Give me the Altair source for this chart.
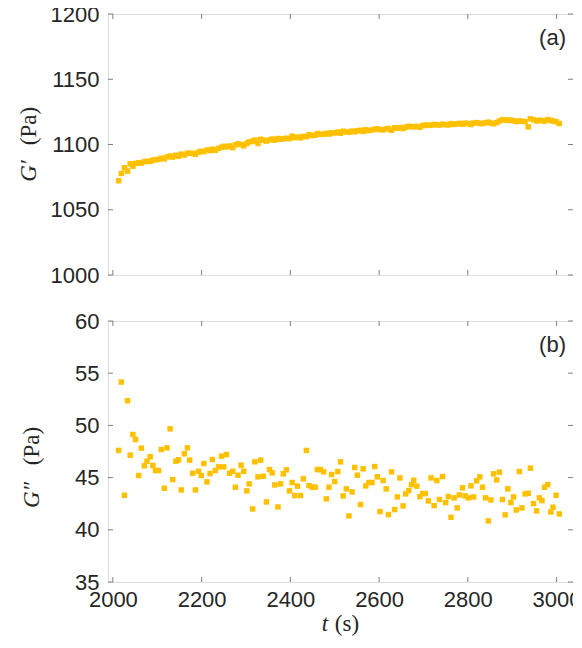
import altair as alt
import pandas as pd

t = [2013, 2019, 2026, 2033, 2039, 2045, 2051, 2058, 2064, 2071,
     2077, 2084, 2090, 2096, 2103, 2109, 2116, 2122, 2129, 2135,
     2142, 2148, 2154, 2161, 2168, 2173, 2180, 2186, 2193, 2199,
     2205, 2212, 2219, 2224, 2231, 2238, 2245, 2250, 2256, 2263,
     2270, 2276, 2282, 2289, 2295, 2302, 2307, 2315, 2320, 2327,
     2333, 2339, 2346, 2353, 2359, 2365, 2372, 2378, 2384, 2391,
     2398, 2404, 2410, 2416, 2423, 2429, 2436, 2442, 2449, 2456,
     2461, 2468, 2475, 2481, 2487, 2493, 2500, 2507, 2513, 2519,
     2526, 2532, 2539, 2545, 2551, 2558, 2564, 2570, 2577, 2584,
     2590, 2596, 2602, 2609, 2616, 2621, 2628, 2635, 2641, 2647,
     2654, 2660, 2667, 2673, 2678, 2685, 2692, 2698, 2704, 2711,
     2717, 2724, 2730, 2736, 2743, 2750, 2756, 2762, 2769, 2776,
     2781, 2788, 2794, 2801, 2807, 2813, 2820, 2827, 2833, 2840,
     2846, 2852, 2858, 2865, 2871, 2878, 2884, 2890, 2897, 2903,
     2909, 2916, 2922, 2929, 2936, 2941, 2948, 2955, 2961, 2967,
     2973, 2980, 2987, 2992, 2999, 3006]

g_storage = [1072.2, 1077.8, 1082.2, 1079.6, 1085.2, 1083.4, 1085.5, 1086.0, 1085.8, 1086.8,
             1087.2, 1087.0, 1088.0, 1088.3, 1088.6, 1089.5, 1089.0, 1090.5, 1091.2, 1090.3,
             1091.8, 1091.0, 1092.6, 1091.9, 1093.4, 1093.2, 1093.3, 1092.5, 1094.2, 1094.8,
             1094.5, 1095.8, 1095.3, 1096.4, 1095.6, 1097.0, 1097.9, 1098.6, 1098.2, 1098.9,
             1097.6, 1099.7, 1100.5, 1100.0, 1099.0, 1100.8, 1102.0, 1102.5, 1103.4, 1100.8,
             1104.0, 1103.3, 1102.6, 1103.5, 1104.2, 1103.3, 1104.6, 1104.0, 1104.3, 1104.8,
             1104.5, 1106.4, 1105.3, 1105.7, 1105.1, 1106.2, 1106.0, 1107.6, 1106.8, 1107.2,
             1108.4, 1107.8, 1107.9, 1108.6, 1108.0, 1109.0, 1108.8, 1109.6, 1108.6, 1110.2,
             1109.6, 1109.4, 1110.3, 1109.7, 1110.5, 1110.9, 1110.0, 1111.3, 1110.6, 1111.1,
             1111.6, 1112.0, 1111.4, 1111.2, 1111.9, 1112.3, 1110.9, 1112.8, 1112.5, 1113.0,
             1112.2, 1113.3, 1114.0, 1113.6, 1113.5, 1113.9, 1113.2, 1114.4, 1115.0, 1114.6,
             1114.8, 1115.4, 1115.1, 1114.9, 1115.6, 1115.2, 1115.0, 1116.0, 1115.4, 1115.8,
             1116.2, 1115.5, 1116.4, 1116.0, 1115.3, 1116.5, 1116.8, 1116.2, 1116.0, 1116.6,
             1117.1, 1116.4, 1115.9, 1116.8, 1118.0, 1119.1, 1118.8, 1118.4, 1118.7, 1118.2,
             1117.6, 1118.0, 1117.8, 1117.5, 1113.5, 1119.7, 1118.9, 1118.0, 1118.6, 1118.3,
             1117.9, 1119.1, 1118.5, 1118.0, 1117.4, 1116.1]

g_loss = [47.6, 54.15, 43.3, 52.36, 47.15, 49.13, 48.65, 45.2, 47.82, 46.13,
          46.57, 46.99, 46.16, 45.68, 45.68, 47.69, 43.98, 47.85, 49.67, 44.81,
          46.57, 46.7, 43.82, 47.28, 47.85, 46.67, 45.42, 43.82, 45.61, 45.2,
          46.35, 44.59, 45.39, 46.73, 45.68, 46.03, 47.05, 46.03, 47.21, 45.42,
          45.61, 44.08, 45.23, 46.19, 45.61, 43.73, 44.4, 42.0, 46.51, 45.07,
          46.67, 45.13, 42.67, 45.77, 45.45, 44.3, 42.19, 44.4, 45.36, 45.74,
          43.73, 44.53, 43.28, 44.18, 43.28, 44.88, 47.6, 44.24, 44.08, 44.08,
          45.77, 45.77, 45.55, 42.96, 44.08, 45.3, 44.62, 45.58, 46.51, 43.25,
          43.92, 41.33, 43.63, 45.97, 45.23, 42.42, 45.84, 44.21, 44.53, 44.53,
          46.06, 45.07, 41.75, 44.72, 43.92, 41.46, 45.55, 41.94, 43.15, 44.97,
          42.29, 43.44, 43.76, 44.33, 44.75, 44.18, 43.18, 43.47, 43.47, 42.77,
          44.97, 42.32, 44.72, 42.9, 45.1, 42.61, 43.18, 41.2, 43.06, 42.1,
          43.34, 44.02, 43.25, 43.06, 44.21, 43.15, 44.69, 45.07, 44.08, 43.06,
          40.85, 42.86, 45.36, 44.78, 45.52, 42.9, 41.43, 43.92, 42.61, 43.15,
          41.9, 45.58, 42.1, 43.44, 43.5, 45.9, 42.51, 41.81, 43.06, 42.8,
          44.08, 44.33, 41.71, 42.16, 43.31, 41.52]

x_ticks = [2000, 2200, 2400, 2600, 2800, 3000]
y1_ticks = [1000, 1050, 1100, 1150, 1200]
y2_ticks = [35, 40, 45, 50, 55, 60]

W, H = 465, 261
TL = 5
FRAME = "#7f7f7f"
PT = "#FFC000"
TXT = "#262626"
SANS = "Liberation Sans"
SERIF = "Liberation Serif"

xscale = alt.Scale(domain=[1989, 3037], nice=False, zero=False)
one = pd.DataFrame({"a": [0]})


def label(text, x, y, font=SANS, size=22, style="normal", angle=0, align="center", baseline="middle"):
    return alt.Chart(one).mark_text(
        text=text, font=font, fontSize=size, fontStyle=style, angle=angle,
        align=align, baseline=baseline, color=TXT,
    ).encode(x=alt.value(x), y=alt.value(y))


def panel(yvals, yticks, ydomain, tag, gname, gy, pay, tx, show_x):
    df = pd.DataFrame({"t": t, "g": yvals})
    ys = alt.Scale(domain=ydomain, nice=False, zero=False)
    xaxis = alt.Axis(values=x_ticks, ticks=False, domain=False, grid=False, title=None,
                     labels=show_x, labelFont=SANS, labelFontSize=22, labelColor=TXT,
                     labelPadding=7, format="d")
    yaxis = alt.Axis(values=yticks, ticks=False, domain=False, grid=False, title=None,
                     labelFont=SANS, labelFontSize=22, labelColor=TXT, labelPadding=9,
                     format="d")
    X = lambda f: alt.X(f, scale=xscale, axis=xaxis, title=None)
    Y = lambda f: alt.Y(f, scale=ys, axis=yaxis, title=None)
    pts = alt.Chart(df).mark_square(size=30, color=PT, opacity=1).encode(
        x=X("t:Q"), y=Y("g:Q"))
    xt = pd.DataFrame({"v": x_ticks})
    yt = pd.DataFrame({"v": yticks})
    xb = alt.Chart(xt).mark_rule(color=FRAME).encode(
        x=X("v:Q"), y=alt.value(H), y2=alt.value(H - TL))
    xtop = alt.Chart(xt).mark_rule(color=FRAME).encode(
        x=X("v:Q"), y=alt.value(0), y2=alt.value(TL))
    yl = alt.Chart(yt).mark_rule(color=FRAME).encode(
        y=Y("v:Q"), x=alt.value(0), x2=alt.value(TL))
    yr = alt.Chart(yt).mark_rule(color=FRAME).encode(
        y=Y("v:Q"), x=alt.value(W), x2=alt.value(W - TL))
    layers = [pts, xb, xtop, yl, yr,
              label(tag, W - 7, 24, align="right"),
              label(gname, tx, gy, font=SERIF, size=23, style="italic", angle=270),
              label("(Pa)", tx, pay, font=SERIF, size=23, angle=270)]
    if show_x:
        layers += [label("t", 217, H + 49, font=SERIF, size=23, style="italic", baseline="alphabetic"),
                   label("(s)", 239, H + 49, font=SERIF, size=23, baseline="alphabetic")]
    return alt.layer(*layers).properties(width=W, height=H)


top = panel(g_storage, y1_ticks, [1000, 1200], "(a)", "G\u2032", 157, 112, -79, False)
bottom = panel(g_loss, y2_ticks, [35, 60], "(b)", "G\u2033", 174, 125, -76, True)

chart = alt.vconcat(top, bottom, spacing=22).properties(
    padding={"left": 9, "top": -6, "right": -9, "bottom": 0}
).configure_view(stroke=FRAME, strokeWidth=1).configure(background="white")

chart.save("out.html", embed_options={"renderer": "svg", "actions": False})
